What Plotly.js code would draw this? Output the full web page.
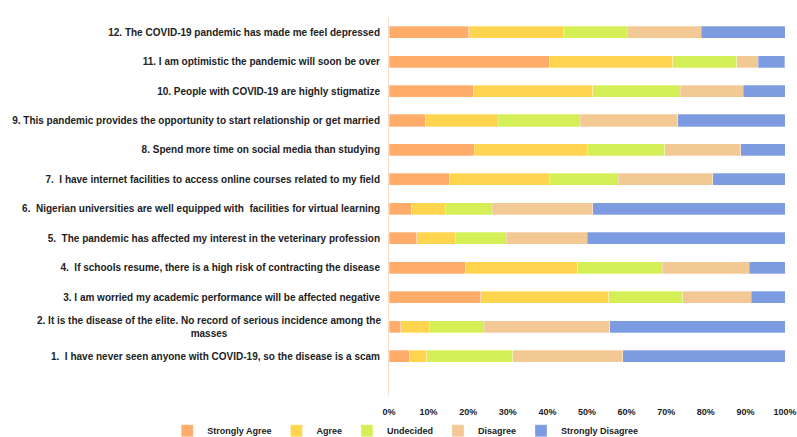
<!DOCTYPE html>
<html><head><meta charset="utf-8">
<script src="https://cdn.plot.ly/plotly-3.0.1.min.js"></script>
<style>html,body{margin:0;padding:0;background:#fff}#c{width:797px;height:437px}</style>
</head><body><div id="c"></div>
<script>
const categories = [
  "1.  I have never seen anyone with COVID-19, so the disease is a scam",
  "2. It is the disease of the elite. No record of serious incidence among the<br>masses",
  "3. I am worried my academic performance will be affected negative",
  "4.  If schools resume, there is a high risk of contracting the disease",
  "5.  The pandemic has affected my interest in the veterinary profession",
  "6.  Nigerian universities are well equipped with  facilities for virtual learning",
  "7.  I have internet facilities to access online courses related to my field",
  "8. Spend more time on social media than studying",
  "9. This pandemic provides the opportunity to start relationship or get married",
  "10. People with COVID-19 are highly stigmatize",
  "11. I am optimistic the pandemic will soon be over",
  "12. The COVID-19 pandemic has made me feel depressed"
];
const seriesNames = ["Strongly Agree","Agree","Undecided","Disagree","Strongly Disagree"];
const stronglyAgree    = [5.3, 3.0, 23.2, 19.2, 7.0, 5.7, 15.2, 21.5, 9.2, 21.3, 40.5, 20.1];
const agree            = [4.2, 7.1, 32.3, 28.5, 9.7, 8.5, 25.3, 28.6, 18.4, 30.1, 31.1, 23.9];
const undecided        = [21.7, 13.9, 18.7, 21.3, 12.9, 11.9, 17.4, 19.5, 20.7, 22.1, 16.2, 16.1];
const disagree         = [27.8, 31.8, 17.3, 22.0, 20.5, 25.3, 23.8, 19.2, 24.6, 15.9, 5.5, 18.8];
const stronglyDisagree = [41.0, 44.2, 8.5, 9.0, 49.9, 48.6, 18.3, 11.2, 27.1, 10.6, 6.6, 21.1];
const xTickVals = [0,10,20,30,40,50,60,70,80,90,100];
const xTickText = ["0%","10%","20%","30%","40%","50%","60%","70%","80%","90%","100%"];

const values = [stronglyAgree, agree, undecided, disagree, stronglyDisagree];
const colors = ["#FFAB6A","#FFD54F","#D3EF55","#F2C894","#7D9BE0"];
const idx = categories.map((c,i)=>i);
const family = '"Liberation Sans", Arial, sans-serif';

const traces = values.map((v,k)=>({
  type:'bar', orientation:'h', name:seriesNames[k],
  x:v, y:idx, width:0.41,
  marker:{color:colors[k], line:{color:'rgba(255,255,255,0.6)', width:0.5}},
  hoverinfo:'x+name'
}));

// multi-line label drawn centred (as in the reference) via annotation
const tickText = categories.map(c => c.includes('<br>') ? '' : c);
const annotations = categories.map((c,i)=>c.includes('<br>') ? {
  text:c, xref:'paper', x:0, xanchor:'right', xshift:-6, yref:'y', y:i, yanchor:'middle',
  align:'center', showarrow:false,
  font:{family:family, size:10, color:'#222', weight:'bold'}
} : null).filter(a=>a);

const layout = {
  width:797, height:437,
  margin:{l:389, r:12, t:18, b:42, autoexpand:false},
  barmode:'stack',
  paper_bgcolor:'#fff', plot_bgcolor:'#fff',
  font:{family:family, size:9, color:'#222', weight:'bold'},
  showlegend:true,
  legend:{orientation:'h', xref:'paper', yref:'paper', x:-0.56, xanchor:'left',
          y:-0.095, yanchor:'middle', itemgap:0,
          font:{family:family, size:9, color:'#222', weight:'bold'},
          itemwidth:30, traceorder:'normal'},
  xaxis:{range:[0,100], tickvals:xTickVals, ticktext:xTickText, showgrid:false, zeroline:false,
         showline:false, ticks:'', ticklabelstandoff:10, ticklabeloverflow:'allow',
         tickfont:{family:family, size:9, color:'#222', weight:'bold'}},
  yaxis:{range:[-1.32,11.48], tickvals:idx, ticktext:tickText, showgrid:false, zeroline:false,
         showline:true, linecolor:'#F6DCC6', linewidth:1, ticks:'', ticklabelstandoff:6,
         tickfont:{family:family, size:10, color:'#222', weight:'bold'}},
  annotations:annotations
};
Plotly.newPlot('c', traces, layout, {displayModeBar:false, staticPlot:true});
</script></body></html>
